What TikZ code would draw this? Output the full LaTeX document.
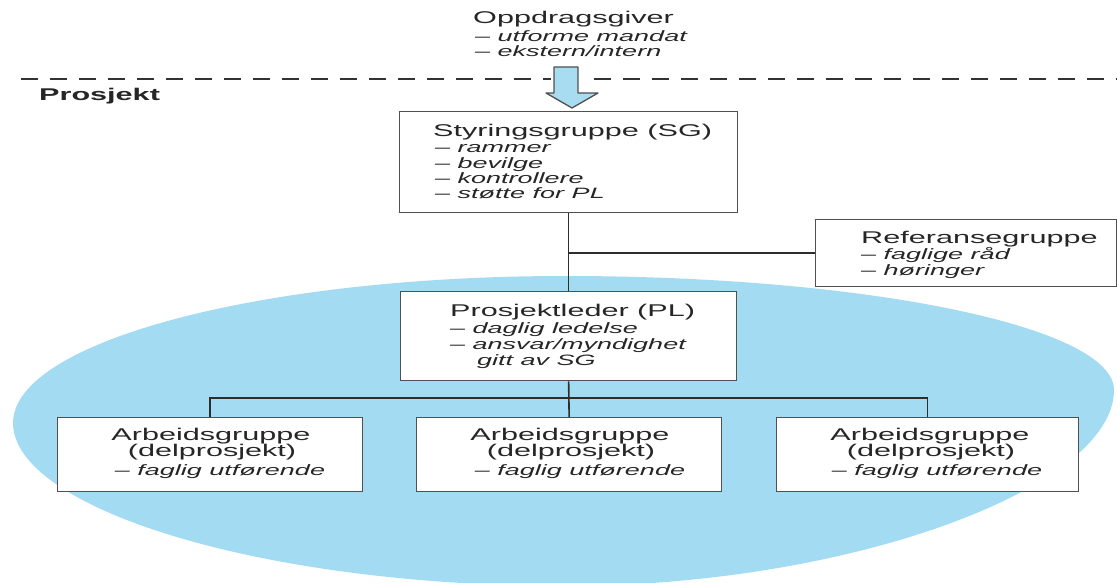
\documentclass[tikz,border=0pt]{standalone}
\usepackage{fontspec}
\setmainfont[FakeStretch=1.8]{Liberation Sans}
\definecolor{ovalblue}{RGB}{163,219,242}
\definecolor{arrowblue}{RGB}{168,220,240}
\definecolor{boxline}{RGB}{80,80,80}
\definecolor{linkline}{RGB}{45,45,45}
\begin{document}
\begin{tikzpicture}[x=1pt,y=-1pt,
  box/.style={draw=boxline, line width=1.3pt, fill=white, inner sep=0pt, anchor=north west},
  hd/.style={font=\fontsize{17}{20}\selectfont, inner sep=0pt, text=black!85},
  sb/.style={font=\fontsize{15}{18}\selectfont\itshape, inner sep=0pt, text=black!85},
  link/.style={draw=linkline, line width=1.6pt},
  divider/.style={draw=black!80, line width=2.2pt, dash pattern=on 17pt off 12pt}]
\useasboundingbox (0,0) rectangle (1117,583);
% blue oval
\fill[ovalblue] (13,423) .. controls (13,342) and (260,276) .. (565,276)
  .. controls (868,276) and (1114,327) .. (1114,390)
  .. controls (1114,488) and (850,586) .. (565,586)
  .. controls (260,586) and (13,508) .. (13,423) -- cycle;
% dashed divider
\coordinate (dl1) at (21,79);
\coordinate (dl2) at (551,79);
\coordinate (dr1) at (594,79);
\coordinate (dr2) at (1117,79);
\draw[divider] (dl1) -- (dl2);
\draw[divider] (dr1) -- (dr2);
% top text
\node[hd, anchor=base west] (og) at (473,24) {Oppdragsgiver};
\node[sb, anchor=base west] (og1) at (475,42) {– utforme mandat};
\node[sb, anchor=base west] (og2) at (475,57) {– ekstern/intern};
\node[hd, anchor=base west, font=\fontsize{17}{20}\selectfont\bfseries] (pr) at (39,101) {Prosjekt};
% arrow
\filldraw[fill=arrowblue, draw=boxline, line width=1.3pt, line join=round]
  (554,67) -- (578,67) -- (578,93) -- (598,93) -- (572,108) -- (546,93) -- (554,93) -- cycle;
% boxes
\node[box, minimum width=338pt, minimum height=101pt] (sg) at (399,111) {};
\node[box, minimum width=301pt, minimum height=67pt] (ref) at (815,219) {};
\node[box, minimum width=336pt, minimum height=89pt] (pl) at (400,291) {};
\node[box, minimum width=305pt, minimum height=74pt] (a1) at (57,417) {};
\node[box, minimum width=305pt, minimum height=74pt] (a2) at (416,417) {};
\node[box, minimum width=302pt, minimum height=74pt] (a3) at (776,417) {};
% connectors
\draw[link] (sg.south) -- (pl.north);
\draw[link] (sg.south |- ref.west) -- (ref.west);
\draw[link] (pl.south) -- (a2.north);
\draw[link] (a1.north) -- ++(0,-19) -| (a3.north);
% SG text
\node[hd, anchor=base west] (sgt) at (433,137) {Styringsgruppe (SG)};
\node[sb, anchor=base west] (sg1) at (435,153) {– rammer};
\node[sb, anchor=base west] (sg2) at (435,168) {– bevilge};
\node[sb, anchor=base west] (sg3) at (435,183) {– kontrollere};
\node[sb, anchor=base west] (sg4) at (435,199) {– støtte for PL};
% Ref text
\node[hd, anchor=base west] (reft) at (861,243) {Referansegruppe};
\node[sb, anchor=base west] (ref1) at (861,259) {– faglige råd};
\node[sb, anchor=base west] (ref2) at (861,275) {– høringer};
% PL text
\node[hd, anchor=base west] (plt) at (450,316) {Prosjektleder (PL)};
\node[sb, anchor=base west] (pl1) at (450,333) {– daglig ledelse};
\node[sb, anchor=base west] (pl2) at (450,349) {– ansvar/myndighet};
\node[sb, anchor=base west] (pl3) at (477,365) {gitt av SG};
% Arbeidsgrupper
\node[hd, anchor=base] (a1t) at (211,440) {Arbeidsgruppe};
\node[hd, anchor=base] (a1u) at (212,456) {(delprosjekt)};
\node[sb, anchor=base] (a1v) at (220,475) {– faglig utførende};
\node[hd, anchor=base] (a2t) at (570,440) {Arbeidsgruppe};
\node[hd, anchor=base] (a2u) at (571,456) {(delprosjekt)};
\node[sb, anchor=base] (a2v) at (580,475) {– faglig utførende};
\node[hd, anchor=base] (a3t) at (930,440) {Arbeidsgruppe};
\node[hd, anchor=base] (a3u) at (931,456) {(delprosjekt)};
\node[sb, anchor=base] (a3v) at (937,475) {– faglig utførende};
\end{tikzpicture}
\end{document}
